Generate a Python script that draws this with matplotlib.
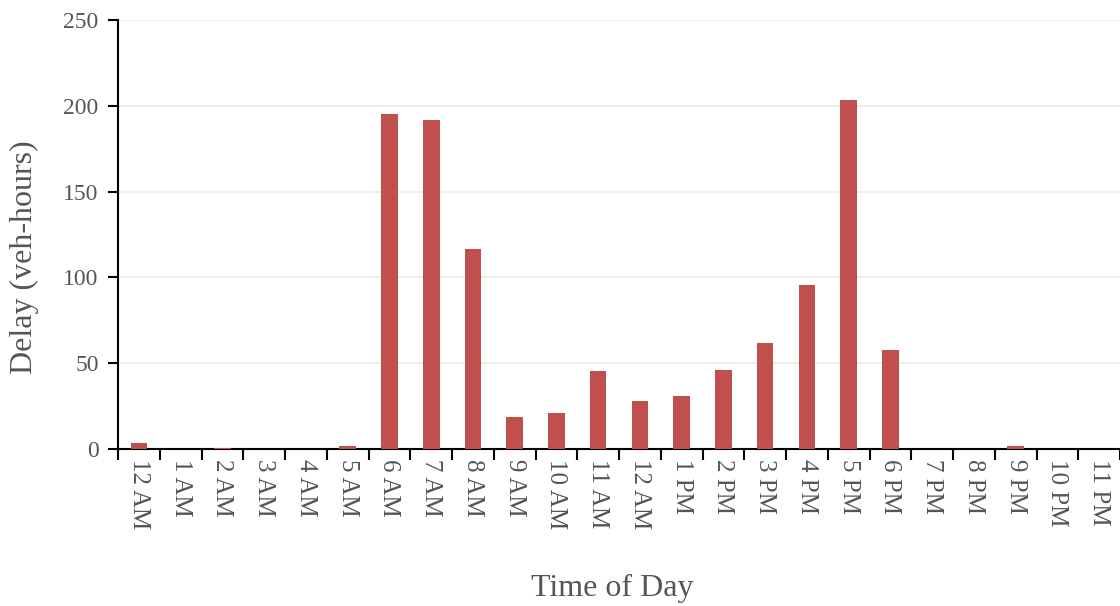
import matplotlib
matplotlib.use("Agg")
import matplotlib.pyplot as plt
import numpy as np

hours = ["12 AM", "1 AM", "2 AM", "3 AM", "4 AM", "5 AM", "6 AM", "7 AM", "8 AM",
         "9 AM", "10 AM", "11 AM", "12 AM", "1 PM", "2 PM", "3 PM", "4 PM", "5 PM",
         "6 PM", "7 PM", "8 PM", "9 PM", "10 PM", "11 PM"]
delay = [3.5, 0, 0.5, 0, 0, 1.5, 195, 191.5, 116.5, 18.5, 21, 45.5, 28, 31,
         46, 62, 95.5, 203.5, 57.5, 0, 0, 2, 0, 0]

plt.rcParams['font.family'] = ['Liberation Serif', 'DejaVu Serif']

fig = plt.figure(figsize=(11.2, 6.06), dpi=100)
ax = fig.add_axes([0.1054, 0.259, 0.8946, 0.708])

x = np.arange(len(hours))
ax.bar(x, delay, width=0.4, color="#C0504D", zorder=3)

ax.set_xlim(-0.5, len(hours) - 0.5)
ax.set_ylim(0, 250)
ax.set_yticks([0, 50, 100, 150, 200, 250])
ax.grid(axis="y", color="#EDEBDF", linewidth=1.2, zorder=0)

ax.set_xticks(x)
ax.set_xticklabels(hours, rotation=270, fontsize=18, color="#555555")
ax.tick_params(axis="x", which="major", length=0, pad=7)
ax.set_xticks(np.arange(-0.5, len(hours)), minor=True)
ax.tick_params(axis="x", which="minor", length=8, width=1.5, color="black")
ax.tick_params(axis="y", length=7, width=1.5, labelsize=17, labelcolor="#555555", pad=7)

for s in ["top", "right"]:
    ax.spines[s].set_visible(False)
for s in ["left", "bottom"]:
    ax.spines[s].set_linewidth(1.5)

ax.set_ylabel("Delay (veh-hours)", fontsize=23, color="#555555")
ax.yaxis.set_label_coords(-0.079, 0.447)
ax.set_xlabel("Time of Day", fontsize=23, color="#555555")
ax.xaxis.set_label_coords(0.4935, -0.291)

fig.savefig("out.png", dpi=100)
